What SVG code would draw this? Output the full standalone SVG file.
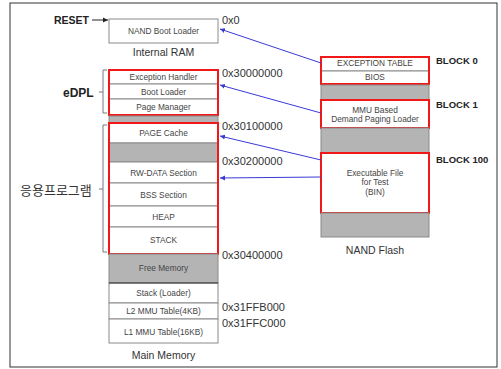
<svg xmlns="http://www.w3.org/2000/svg" width="501" height="369" viewBox="0 0 501 369">
<defs>
<style>
.row{fill:#fff;stroke:#8a8a8a;stroke-width:1}
.gray{fill:#b4b4b4;stroke:#8a8a8a;stroke-width:1}
.red{fill:none;stroke:#f01818;stroke-width:2}
.t{font-family:"Liberation Sans",Arial,sans-serif;font-size:8.3px;fill:#444;text-anchor:middle;dominant-baseline:central}
.addr{font-family:"Liberation Sans",Arial,sans-serif;font-size:11px;fill:#333;dominant-baseline:central}
.lbl{font-family:"Liberation Sans",Arial,sans-serif;font-size:9.5px;fill:#222;font-weight:bold;dominant-baseline:central}
.cap{font-family:"Liberation Sans",Arial,sans-serif;font-size:10.5px;fill:#333;text-anchor:middle;dominant-baseline:central}
.br{fill:none;stroke:#777;stroke-width:1}
.blue{stroke:#3a3ad8;stroke-width:1;fill:none;marker-end:url(#ah)}
</style>
<marker id="ah" markerWidth="6" markerHeight="6" refX="5" refY="3" orient="auto" markerUnits="userSpaceOnUse">
<path d="M0,0.5 L5,3 L0,5.5 Z" fill="#3a3ad8"/>
</marker>
<marker id="ak" markerWidth="6" markerHeight="6" refX="5" refY="3" orient="auto" markerUnits="userSpaceOnUse">
<path d="M0,0.5 L5,3 L0,5.5 Z" fill="#222"/>
</marker>
</defs>
<rect x="10" y="3" width="487" height="364" fill="#fff" stroke="#333" stroke-width="1"/>

<g id="reset">
<text class="lbl" x="54" y="20" style="font-size:10.5px">RESET</text>
<line x1="92" y1="20" x2="108" y2="20" stroke="#222" stroke-width="1" marker-end="url(#ak)"/>
</g>

<g id="internal-ram">
<rect class="row" x="109" y="19" width="109" height="24"/>
<text class="t" x="163.5" y="31">NAND Boot Loader</text>
<text class="cap" x="163.5" y="52">Internal RAM</text>
<text class="addr" x="222" y="20">0x0</text>
</g>

<g id="edpl">
<rect class="row" x="109" y="70" width="109" height="14"/>
<rect class="row" x="109" y="84" width="109" height="15"/>
<rect class="row" x="109" y="99" width="109" height="16"/>
<rect class="red" x="109" y="70" width="109" height="45"/>
<text class="t" x="163.5" y="77">Exception Handler</text>
<text class="t" x="163.5" y="91.5">Boot Loader</text>
<text class="t" x="163.5" y="107">Page Manager</text>
<path class="br" d="M107,70 H103 V113 H107 M103,92 H99"/>
<text x="63" y="93" font-family="Liberation Sans,Arial,sans-serif" font-size="12" font-weight="bold" fill="#222" dominant-baseline="central">eDPL</text>
<text class="addr" x="222" y="73">0x30000000</text>
</g>

<g id="gap1">
<rect class="gray" x="109" y="116" width="109" height="7"/>
</g>

<g id="app">
<rect class="row" x="109" y="123" width="109" height="20"/>
<rect class="gray" x="109" y="143" width="109" height="19"/>
<rect class="row" x="109" y="162" width="109" height="21"/>
<rect class="row" x="109" y="183" width="109" height="23"/>
<rect class="row" x="109" y="206" width="109" height="21"/>
<rect class="row" x="109" y="227" width="109" height="27"/>
<rect class="red" x="109" y="123" width="109" height="131"/>
<text class="t" x="163.5" y="133">PAGE Cache</text>
<text class="t" x="163.5" y="172.5">RW-DATA Section</text>
<text class="t" x="163.5" y="194.5">BSS Section</text>
<text class="t" x="163.5" y="216.5">HEAP</text>
<text class="t" x="163.5" y="240">STACK</text>
<path class="br" d="M107,125 H103 V252 H107 M103,189 H99"/>
<text x="20" y="190" font-family="Liberation Sans,'Noto Sans CJK KR',sans-serif" font-size="13" fill="#333" dominant-baseline="central">응용프로그램</text>
<text class="addr" x="222" y="126">0x30100000</text>
<text class="addr" x="222" y="161">0x30200000</text>
</g>

<g id="lower">
<rect class="gray" x="109" y="254" width="109" height="29"/>
<rect class="row" x="109" y="283" width="109" height="20"/>
<rect class="row" x="109" y="303" width="109" height="16"/>
<rect class="row" x="109" y="319" width="109" height="24"/>
<line x1="109" y1="283" x2="218" y2="283" stroke="#333" stroke-width="1"/>
<text class="t" x="163.5" y="268">Free Memory</text>
<text class="t" x="163.5" y="293">Stack (Loader)</text>
<text class="t" x="163.5" y="311">L2 MMU Table(4KB)</text>
<text class="t" x="163.5" y="331.5">L1 MMU Table(16KB)</text>
<text class="cap" x="163.5" y="355">Main Memory</text>
<text class="addr" x="222" y="255">0x30400000</text>
<text class="addr" x="222" y="307">0x31FFB000</text>
<text class="addr" x="222" y="323">0x31FFC000</text>
</g>

<g id="nand">
<rect class="row" x="321" y="57" width="108" height="14"/>
<rect class="row" x="321" y="71" width="108" height="13"/>
<rect class="red" x="321" y="57" width="108" height="27"/>
<text class="t" x="375" y="63">EXCEPTION TABLE</text>
<text class="t" x="375" y="77">BIOS</text>
<rect class="gray" x="321" y="85" width="108" height="15"/>
<rect class="row" x="321" y="100" width="108" height="28"/>
<rect class="red" x="321" y="100" width="108" height="28"/>
<text class="t" x="375" y="110">MMU Based</text>
<text class="t" x="375" y="119">Demand Paging Loader</text>
<rect class="gray" x="321" y="128" width="108" height="25"/>
<rect class="row" x="321" y="153" width="108" height="60"/>
<rect class="red" x="321" y="153" width="108" height="60"/>
<text class="t" x="375" y="173">Executable File</text>
<text class="t" x="375" y="182">for Test</text>
<text class="t" x="375" y="192">(BIN)</text>
<rect class="gray" x="321" y="213" width="108" height="24"/>
<text class="cap" x="375" y="250">NAND Flash</text>
<text class="lbl" x="436" y="60">BLOCK 0</text>
<text class="lbl" x="436" y="104">BLOCK 1</text>
<text class="lbl" x="436" y="159">BLOCK 100</text>
</g>

<g id="connectors">
<line class="blue" x1="321" y1="63" x2="220" y2="29"/>
<line class="blue" x1="321" y1="113" x2="220" y2="85"/>
<line class="blue" x1="321" y1="160" x2="220" y2="136"/>
<line class="blue" x1="321" y1="177" x2="220" y2="178"/>
</g>
</svg>
